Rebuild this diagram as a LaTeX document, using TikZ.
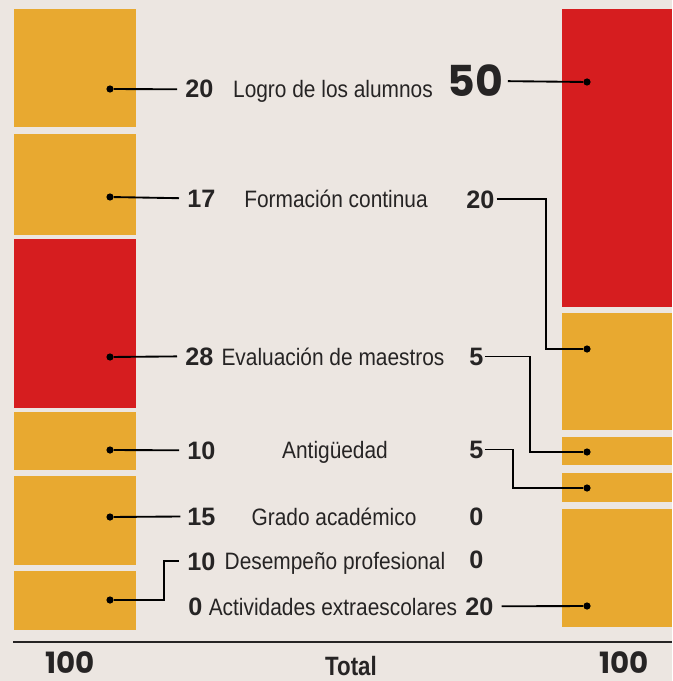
\documentclass[tikz,border=0pt]{standalone}
\usepackage{fontspec}
\setmainfont{Liberation Sans}
\newfontfamily\condfont[FakeStretch=0.88]{Liberation Sans}
\newfontfamily\totfont[FakeStretch=0.84]{Liberation Sans}
\newfontfamily\geofont{Poppins}
\definecolor{bgc}{RGB}{236,230,225}
\definecolor{oran}{RGB}{232,169,48}
\definecolor{redb}{RGB}{214,29,31}
\definecolor{ink}{RGB}{38,36,36}
\tikzset{
  dot/.style={circle,fill=black,inner sep=0pt,minimum size=5.4pt},
  num/.style={inner sep=0pt,anchor=base west,text=ink,font=\fontsize{18.9}{20}\selectfont\bfseries},
  lab/.style={inner sep=0pt,anchor=base,text=ink,font=\condfont\fontsize{17.8}{20}\selectfont},
  big/.style={inner sep=0pt,anchor=base,text=ink,font=\geofont\fontsize{22}{24}\selectfont\bfseries},
  conn/.style={line width=1.4pt,black},
}
\begin{document}
\begin{tikzpicture}[x=0.75pt,y=-0.75pt]
\fill[bgc] (0,0) rectangle (672,681);
\useasboundingbox (0,0) rectangle (672,681);
% left bar
\fill[oran] (14,9) rectangle (136,127);
\fill[oran] (14,134) rectangle (136,235);
\fill[redb] (14,239) rectangle (136,408);
\fill[oran] (14,412) rectangle (136,470);
\fill[oran] (14,476) rectangle (136,565);
\fill[oran] (14,571) rectangle (136,630);
% right bar
\fill[redb] (562,9) rectangle (672,307);
\fill[oran] (562,313) rectangle (672,430);
\fill[oran] (562,437) rectangle (672,465);
\fill[oran] (562,473) rectangle (672,502);
\fill[oran] (562,509) rectangle (672,627);
% dots
\node[dot] (ld1) at (110,89) {};
\node[dot] (ld2) at (110,197) {};
\node[dot] (ld3) at (110,357) {};
\node[dot] (ld4) at (110,450) {};
\node[dot] (ld5) at (110,517) {};
\node[dot] (ld6) at (110,600) {};
\node[dot] (rd1) at (587,82) {};
\node[dot] (rd2) at (587,349) {};
\node[dot] (rd3) at (587,452) {};
\node[dot] (rd4) at (587,488) {};
\node[dot] (rd5) at (587,606) {};
% left numbers
\node[num] (L1) at (185,98) {20};
\node[num] (L2) at (187,207) {17};
\node[num] (L3) at (185,365) {28};
\node[num] (L4) at (187,459) {10};
\node[num] (L5) at (187,525) {15};
\node[num] (L6) at (187,570) {10};
\node[num] (L7) at (188,615) {0};
% labels
\node[lab] (T1) at (333,98) {Logro de los alumnos};
\node[lab] (T2) at (336,207) {Formación continua};
\node[lab] (T3) at (333,365) {Evaluación de maestros};
\node[lab] (T4) at (335,458) {Antigüedad};
\node[lab] (T5) at (334,525) {Grado académico};
\node[lab] (T6) at (335,569) {Desempeño profesional};
\node[lab] (T7) at (333,615) {Actividades extraescolares};
% right numbers
\node[inner sep=0pt,anchor=base west,text=ink,font=\geofont\fontsize{32}{34}\selectfont\bfseries] (R1) at (447,97) {50};
\node[num] (R2) at (466,208) {20};
\node[num] (R3) at (469,365) {5};
\node[num] (R4) at (469,458) {5};
\node[num] (R5) at (469,525) {0};
\node[num] (R6) at (469,568) {0};
\node[num] (R7) at (465,615) {20};
% bend coordinates
\coordinate (e6) at (164,0);
\coordinate (b2) at (546,0);
\coordinate (b3) at (530,0);
\coordinate (b4) at (513,0);
% left connectors
\draw[conn,shorten >=6pt] (ld1) -- (L1.west);
\draw[conn,shorten >=6pt] (ld2) -- (L2.west);
\draw[conn,shorten >=6pt] (ld3) -- (L3.west);
\draw[conn,shorten >=6pt] (ld4) -- (L4.west);
\draw[conn,shorten >=5pt] (ld5) -- (L5.west);
\draw[conn,shorten >=6pt] (ld6) -| (e6 |- L6.west) -- (L6.west);
% right connectors
\draw[conn,shorten <=3.5pt] (R1.east) -- (rd1);
\draw[conn,shorten <=1.5pt] (R2.east) -| (b2 |- rd2) -- (rd2);
\draw[conn,shorten <=1pt] (R3.east) -| (b3 |- rd3) -- (rd3);
\draw[conn,shorten <=1pt] (R4.east) -| (b4 |- rd4) -- (rd4);
\draw[conn,shorten <=6pt] (R7.east) -- (rd5);
% baseline
\coordinate (bl) at (13,642);
\coordinate (br) at (672,642);
\draw[line width=1.5pt,ink] (bl) -- (br);
% totals
\node[big] (B1) at (70,673) {100};
\node[inner sep=0pt,anchor=base,text=ink,font=\totfont\fontsize{19.9}{22}\selectfont\bfseries] (B2) at (351,675) {Total};
\node[big] (B3) at (624,673) {100};
\end{tikzpicture}
\end{document}
